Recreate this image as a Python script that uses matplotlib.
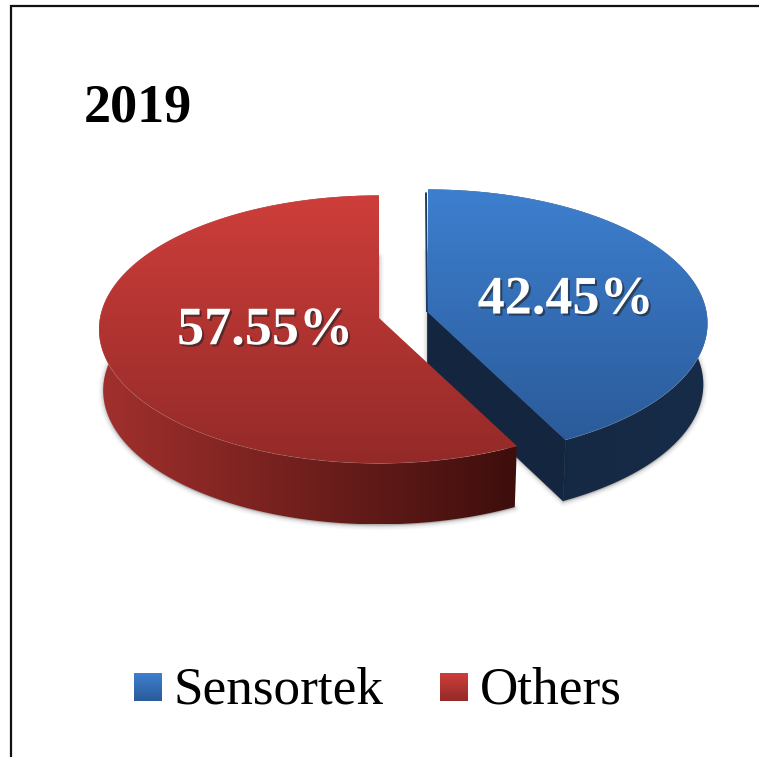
import numpy as np
import matplotlib
matplotlib.use("Agg")
import matplotlib.pyplot as plt
from matplotlib.colors import LinearSegmentedColormap
from matplotlib.patches import Polygon
import matplotlib.patheffects as pe

labels = ["Sensortek", "Others"]
shares = [42.45, 57.55]
title = "2019"

plt.rcParams["font.family"] = ["Liberation Serif", "DejaVu Serif"]

# pie projection, in pixels of the image
A = 279.0
B = 133.0
K = 0.085
DEPTH = 61
BASE_SCALE = 0.985
centers = [(427.5, 312.0), (379.0, 318.0)]
label_r = [0.5, 0.42]
label_off = [(4, 4), (1, 0)]

top_cols = [("#3D7FCF", "#2B5B9A"), ("#CE3E3A", "#932A28")]
side_cols = [("#14263F", "#172C49"), ("#A2302D", "#3D0E0C")]


def rim(center, t0, t1, r=1.0, n=200):
    # t runs clockwise from 12 o'clock, in degrees
    t = np.radians(np.linspace(t0, t1, n))
    u, v = r * np.sin(t), r * np.cos(t)
    d = 1 + K * v
    return np.column_stack([center[0] + A * u / d, center[1] - B * v / d])


def to_base(pts, center):
    # the bottom of a slice is a little narrower than its top
    out = np.array(pts, dtype=float).reshape(-1, 2)
    out[:, 0] = center[0] + (out[:, 0] - center[0]) * BASE_SCALE
    out[:, 1] += DEPTH
    return out


def grad_fill(ax, pts, c0, c1, horizontal=False, z=2):
    cmap = LinearSegmentedColormap.from_list("g", [c0, c1])
    x0, x1 = pts[:, 0].min(), pts[:, 0].max()
    y0, y1 = pts[:, 1].min(), pts[:, 1].max()
    g = np.linspace(0, 1, 256)
    g = g[None, :] if horizontal else g[:, None]
    im = ax.imshow(g, cmap=cmap, extent=[x0, x1, y1, y0], aspect="auto",
                   vmin=0, vmax=1, zorder=z)
    clip = Polygon(pts, closed=True, transform=ax.transData, fc="none", ec="none")
    ax.add_patch(clip)
    im.set_clip_path(clip)


fig = plt.figure(figsize=(7.59, 7.57), dpi=100)
ax = fig.add_axes([0, 0, 1, 1])

# angles from the values
ends = np.cumsum(shares) / np.sum(shares) * 360
starts = np.r_[0, ends[:-1]]

# soft shadows under the base of each slice
for c, t0, t1 in zip(centers, starts, ends):
    base = to_base(np.vstack([rim(c, t0, t1), [c]]), c) + [0, 1]
    for lw, a in [(7, 0.03), (5, 0.05), (3, 0.08), (1.5, 0.12)]:
        ax.add_patch(Polygon(base, closed=True, fc="#555555", ec="#555555",
                             lw=lw, alpha=a, joinstyle="round", zorder=1))

for i, (c, t0, t1) in enumerate(zip(centers, starts, ends)):
    z = 2 + i * 3
    edge = rim(c, t0, t1)
    side = np.vstack([edge, to_base(edge, c)[::-1]])
    grad_fill(ax, side, side_cols[i][0], side_cols[i][1], horizontal=True, z=z)
    # cut face turned to the viewer
    if i == 0:
        tip = edge[-1]
        cut = np.vstack([[c], [tip], to_base(tip, c), to_base(c, c)])
        ax.add_patch(Polygon(cut, closed=True, fc="#14263F", ec="#14263F", lw=0.5, zorder=z))
        ax.plot([edge[0][0] - 1.5, c[0] - 0.5], [edge[0][1] + 3, c[1]], color="#1D3A60", lw=1.4,
                zorder=z + 2, solid_capstyle="butt")
    top = np.vstack([edge, [c]])
    grad_fill(ax, top, top_cols[i][0], top_cols[i][1], z=z + 1)
    ax.plot(edge[:, 0], edge[:, 1], color="white", lw=0.6, alpha=0.1, zorder=z + 1)

    # data label
    mid = (t0 + t1) / 2
    p = rim(c, mid, mid, r=label_r[i], n=1)[0] + label_off[i]
    ax.text(p[0], p[1], "%.2f%%" % shares[i], color="white", fontsize=39, fontweight="bold",
            ha="center", va="center", zorder=10,
            path_effects=[pe.withSimplePatchShadow(offset=(1.5, -1.5), shadow_rgbFace="#222222", alpha=0.6)])

ax.text(84, 122, title, fontsize=39, fontweight="bold", color="black", ha="left", va="baseline")

# legend
swatch_x = [134, 440]
text_x = [173.5, 480]
for i in range(2):
    x = swatch_x[i]
    sq = np.array([[x, 673], [x + 28, 673], [x + 28, 701], [x, 701]], dtype=float)
    grad_fill(ax, sq, top_cols[i][0], top_cols[i][1], z=3)
    ax.text(text_x[i], 703, labels[i], fontsize=38.3, color="black", ha="left", va="baseline")

# frame of the original image, open to the right and at the bottom
ax.plot([11, 11, 759], [757, 6, 6], color="#111111", lw=1.6, solid_joinstyle="miter")

ax.set_xlim(0, 759)
ax.set_ylim(757, 0)
ax.axis("off")
fig.savefig("out.png", dpi=100, facecolor="white")
